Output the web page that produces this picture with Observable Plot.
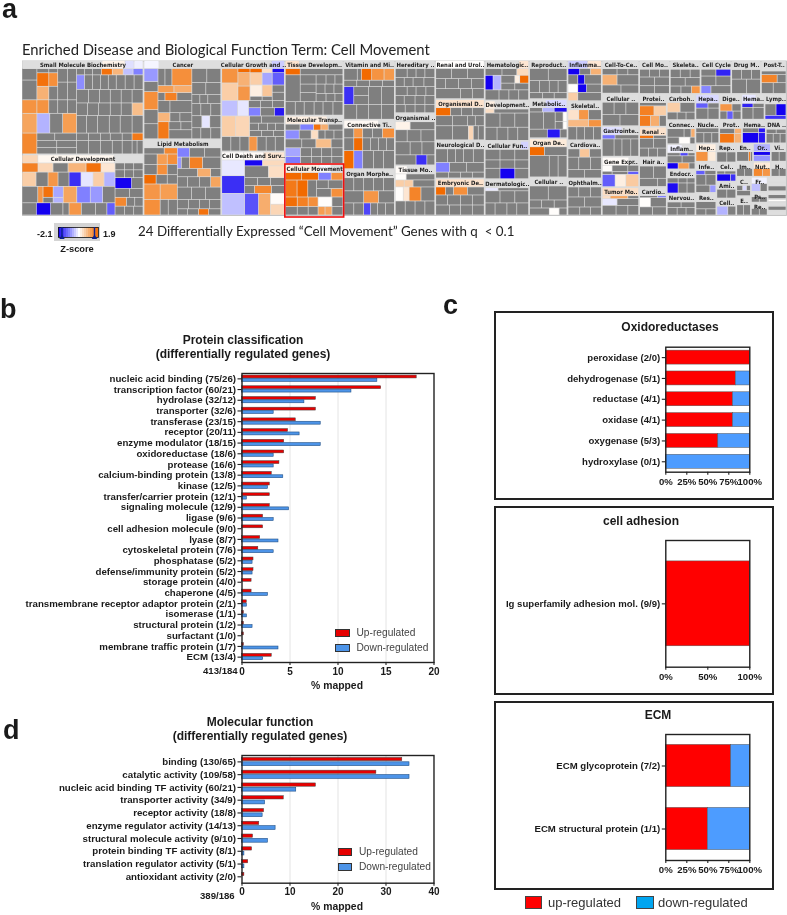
<!DOCTYPE html>
<html><head><meta charset="utf-8">
<script src="https://cdn.jsdelivr.net/npm/d3@7"></script>
<script src="https://cdn.jsdelivr.net/npm/@observablehq/plot@0.6"></script>
<style>
html,body{margin:0;padding:0;background:#fff}
#page{position:relative;width:787px;height:915px;overflow:hidden;font-family:"Liberation Sans",Arial,sans-serif;color:#1a1a1a;filter:blur(.4px)}
#page svg{position:absolute;background:transparent;max-width:none}
.t{position:absolute;white-space:nowrap;line-height:1}
.b{font-weight:bold}
.c{transform:translateX(-50%)}
.box{position:absolute;border:2px solid #222;box-sizing:border-box;background:#fff}
.sw{position:absolute;box-sizing:border-box;border:1px solid #333}
</style></head><body><div id="page"></div>
<script>
// ---------- panel b: protein classification ----------
const proteinClasses=["nucleic acid binding (75/26)","transcription factor (60/21)","hydrolase (32/12)","transporter (32/6)","transferase (23/15)","receptor (20/11)","enzyme modulator (18/15)","oxidoreductase (18/6)","protease (16/6)","calcium-binding protein (13/8)","kinase (12/5)","transfer/carrier protein (12/1)","signaling molecule (12/9)","ligase (9/6)","cell adhesion molecule (9/0)","lyase (8/7)","cytoskeletal protein (7/6)","phosphatase (5/2)","defense/immunity protein (5/2)","storage protein (4/0)","chaperone (4/5)","transmembrane receptor adaptor protein (2/1)","isomerase (1/1)","structural protein (1/2)","surfactant (1/0)","membrane traffic protein (1/7)","ECM (13/4)"];
const proteinUp=[18.2,14.5,7.7,7.7,5.6,4.8,4.4,4.4,3.9,3.1,2.9,2.9,2.9,2.2,2.2,1.9,1.7,1.2,1.2,1.0,1.0,0.5,0.2,0.2,0.2,0.2,3.1];
const proteinDown=[14.1,11.4,6.5,3.3,8.2,6.0,8.2,3.3,3.3,4.3,2.7,0.5,4.9,3.3,0,3.8,3.3,1.1,1.1,0,2.7,0.5,0.5,1.1,0,3.8,2.2];
const proteinTicks=[0,5,10,15,20];
// ---------- panel d: molecular function ----------
const functionClasses=["binding (130/65)","catalytic activity (109/58)","nucleic acid binding TF activity (60/21)","transporter activity (34/9)","receptor activity (18/8)","enzyme regulator activity (14/13)","structural molecule activity (9/10)","protein binding TF activity (8/1)","translation regulator activity (5/1)","antioxidant activity (2/0)"];
const functionUp=[33.4,28.0,15.4,8.7,4.6,3.6,2.3,2.1,1.3,0.5];
const functionDown=[34.9,34.9,11.3,4.8,4.3,7.0,5.4,0.5,0.5,0];
const functionTicks=[0,10,20,30,40];
// ---------- panel c: stacked shares ----------
const oxidoClasses=["peroxidase (2/0)","dehydrogenase (5/1)","reductase (4/1)","oxidase (4/1)","oxygenase (5/3)","hydroxylase (0/1)"];
const oxidoUp=[100,83.3,80,80,62.5,0];
const adhesionClasses=["Ig superfamily adhesion mol. (9/9)"];
const adhesionUp=[100];
const ecmClasses=["ECM glycoprotein (7/2)","ECM structural protein (1/1)"];
const ecmUp=[77.8,50];
// ---------- panel a: treemap tile sizes and z-scores ----------
// group: [name, size, header tiles, body rows]; number = grey tile, "size:z" = coloured tile, "size:h" = pale tile; nested arrays alternate direction
const colA=[
["Small Molecule Biochemistry",92,[80,"23:.15","9:-.25","9:-.12"],[[84,
 [55,[30,[15,11,19],[12,4,"13:1.8","13:.95"],[9,4,"13:1.4",13],[10,13,17],[9,13,17]],[13,"15:1.35","12:1.35",9,10,9],[19,"15:1.1","13:-.6",13,"14:1.2"],[20,"15:1.5",[40,[7,18,22],[7,20,20],[6,20,20]]]],
 [67,[6,8,8,9,"11:1.8","11:.9","10:-.5","10:-1"],[14,"8:-.9",8,8,8,8,9,9,9],[13,12,11,11,11,11,11],[12,11,11,12,11,11,"11:.8"],[17,10,11,12,11,12,11],[7,12,12,10,12,10,"11:1.7"],[13,12,12,12,10,10,5,6]]
]]],
["Cellular Development",61,["16:.5","77:.1",29],[[53,
 [93,[9,"16:1.6","15:.5",15,"18:.9","15:1.8","14:.3"],[14,"14:.6",12,"10:1.3",11,"12:-1.7","12:-.2","11:.6","11:-.6"],[18,14,[14,[12],"6:1.3"],[9,"12:1.8",6],[9,"12:-.7","6:-.6"],"12:1.1","12:-1","11:-.8",11],[12,14,"14:-2.1",12,6,"12:1.3",14,11,"8:-1.3"]],
 [27,[15,[9,7,8],[9,7,8],[9,7,8]],[11,"16:-2.1",11],[9,14,13],[9,"11:1.5",8,8],[9,9,9,9]]
]]]
];
const colB=[
["Cancer",78,["15:-.08",62],[[70,
 [14,"13:-.8",10,"18:1.4",14,15],
 [34,[17,7,7,"20:1.4"],[7,"16:1.2","18:1"],[8,7,"12:1.6",15],[12,12,22],[9,"12:.9",10,12],[17,"11:1.7",[23,[8,12,11],[9,23]]]],
 [29,[14,15,14],[12,14,15],[9,8,8,13],[12,9,10,10],[12,10,"8:-.2",11],[11,9,10,10]]
]]],
["Lipid Metabolism",75,[77],[[68,
 [33,[6,20,"13:1.5"],[10,13,"10:1.2","10:1.4"],[10,13,"10:1.4",10],[9,"12:1.9",11,10],[15,"16:1.3","17:1.2"],[15,"16:1.4",8,9]],
 [43,[9,"12:-1",15,16],[11,"4:-.8",8,"13:1.6",18],[8,20,"13:1",10],[10,10,12,11,"10:1.1"],[12,14,14,15],[9,11,11,10,11],[6,10,11,"10:1.8",12]]
]]]
];
const colC=[
["Cellular Growth and ..",90,[50,"13:-.4"],[[31,
 [16,"14:1.35","17:.6"],[12,"4:1.9","13:.95","14:1.3"],[12,"4:1.9","12:.6","11:.2",4],[10,"4:.4","12:-.7","11:.7",4],[12,"4:-2","12:-1.3",7,8]],
 [15,"16:-.5","11:-.2",[36,[7,12,12,12],[8,"12:-1",14,"10:-1.9"]]],
 [20,"14:.6","14:.5",[35,[7,12,23],[7,9,9,8,9],[6,12,12,11]]],
 [14,9,9,9,"8:1.3",9,9,9]
]],
["Cell Death and Surv..",63,["22:.03","20:.06","21:.3"],[[56,
 [23,"16:-.18","18:-1.7","22:-.5"],
 [40,[6,"18:-2.05","22:.45"],[12,24,"16:.4"],[8,13,13,14],[8,10,"17:1.5",13],[22,"14:-1.4","12:1",[14,"11:.05","11:.5"]]]
]]]
];
const colD=[
["Tissue Developm..",54,["14:.35",44],[[6,"15:1.9",43],[26,15,[16,9,8,9],[27,[9,10,9,8],[9,9,9,9],[8,10,9,8]]],[13,10,9,10,9,10,10]]],
["Molecular Transp..",47,["42:.2",16],[[6,14,"13:-1","7:1.8","7:1",14],[9,"14:-.9",12,"7:.4",7,9,9],[9,14,12,"13:.8",10],[9,"15:-.7",11,10,10,11],[7,"15:-1.05",11,10,10,11]]],
["Cellular Movement",50,["34:.2","12:-.05",12],[[7,"15:1.9","16:1.9","12:-1","11:1.4"],[16,"12:1.7","11:1.9",9,[27,[7,12,15],[7,15,"12:1.4"]]],[9,"12:1.85","11:1.6","10:1.4","14:.03",11],[8,12,11,10,"7:1.2","7:1.1",11]]]
];
const colE=[
["Vitamin and Mi..",58,[51],[[11,13,4,"10:1.9","12:1.35","10:1.25"],[6,13,13,13,12],[17,"10:-1.7",[15,8,8],13,13],[14,13,12,13,13]]],
["Connective Ti..",48,["35:.08",16],[[9,10,"9:1.3",10,10,"12:1.4"],[12,10,"9:1.9",8,8,8,8],[17,"10:1.9","9:-1",11,10,11]]],
["Organ Morphe..",45,[51],[[13,10,10,10,10,11],[12,20,"15:1.3",16],[12,10,10,"7:-1.5",7,8,9]]]
];
const colF=[
["Hereditary ..",52,[40],[[9,12,9,9,10],[9,9,9,11,11],[9,12,9,10,9],[9,9,11,10,10],[8,10,10,10,10]]],
["Organismal ..",51,[40],[[8,"15:.15",25],[12,12,14,14],[13,15,12,13],[10,21,"11:-1.7",8]]],
["Tissue Mo..",49,["12:.05",28],[[6,"11:.03",29],[7,"9:.6","9:.6",22],[14,"8:.03","6:.3","12:1.55",14],[14,10,10,10,10]]]
];
const colG=[
["Renal and Urol..",38,["48:.02"],[[10,16,16,17],[10,10,13,13,13],[10,25,12,12]]],
["Organismal D..",40,["48:.35"],[[8,"15:1.9",11,11,12],[10,17,15,8,9],[14,17,16,"5:.5",5,6]]],
["Neurological D..",37,[49],[[14,12,8,8,10,11],[10,"14:-1",17,18],[6,13,12,12,12]]],
["Embryonic De..",36,["49:.35"],[[8,"10:1.9",8,"14:1.4",17],[10,12,13,12,12],[10,14,11,12,12]]]
];
const colH=[
["Hematologic..",39,[34,"10:.3"],[[6,17,15,"12:.45"],[13,"8:-2.1","8:-.6",[28,[7,14,"5:.2","9:1.9"],[6,14,14]]],[9,14,10,10,10]]],
["Development..",39,["10:.2",34],[[4,"9:.4",35],[14,15,15,14],[13,12,11,10,11]]],
["Cellular Fun..",37,[36,"8:-.35"],[[10,15,15,14],[8,15,15,14],[10,15,"15:-2.1",14]]],
["Dermatologic..",35,[44],[[3,"13:-.2",31],[12,15,15,14],[12,10,12,10,12]]]
];
const colI=[
["Reproduct..",38,[38],[[12,19,19],[12,10,10,9,9],[6,13,12,13]]],
["Metabolic..",38,[16,"22:-.3"],[[4,13,"12:-.6","13:-2"],[16,14,12,[12,[9,8,"4:.03"],[7,8,"4:.03"]]],[8,18,"13:-1.9",7]]],
["Organ De..",38,["38:.25"],[[9,"15:1.9",23],[22,20,9,9]]],
["Cellular ..",37,[38],[[14,19,19],[8,12,13,13],[7,20,"10:.03",8]]]
];
const colJ=[
["Inflamma..",40,["20:-.4","14:.3"],[[6,"12:-2.1",11,"11:.95"],[9,10,"7:-2.1",17],[8,"10:.03","9:-2.1",15],[8,"10:.6",24]]],
["Skeletal..",38,[34],[[10,"11:.35","10:1.3",13],[7,"21:.85","13:1.35"],[13,9,8,9,8]]],
["Cardiova..",37,[34],[[8,12,"10:.7",12],[12,11,12,11],[8,17,17]]],
["Ophthalm..",36,[34],[[10,11,12,11],[10,17,17],[8,12,11,11]]]
];
const colK=[
["Cell-To-Ce..",32,[37],[[6,15,11,11],[10,"15:.95",22],[8,19,18]]],
["Cellular ..",31,[37],[[12,12,12,13],[11,18,19]]],
["Gastrointe..",29,["20:-.25",17],[[4,"13:-1.1",24],[17,12,8,9,8]]],
["Gene Expr..",29,["27:.05",10],[[6,"10:.03",16,11],[3,10,16,"11:-1.3"],[12,"12:-1.3","10:.2","12:.65"]]],
["Tumor Mo..",27,["37:.4"],[[3,"8:.4","18:1.1",11],[7,"15:-.18",22],[10,14,12,11]]]
];
const rightTop=[
["Cell Mo..",30,[30],[[8,10,10,10],[9,15,15],[8,15,15]]],
["Skeleta..",30,[30],[[9,10,10,10],[9,15,15],[8,10,10,"8:1.3"]]],
["Cell Cycle",30,[30],[[7,15,"15:-1.8"],[10,15,15],[8,"10:-.95",20]]],
["Drug M..",29,[29],[[10,10,10,9],[15,15,14]]],
["Post-T..",25,[25],[[4,25],[9,"16:1.55",9],[12,12,13]]]
];
const colL=[
["Protei..",31,[27],[[3,27],[9,"14:1.6","12:.6"],[10,"11:1.65","9:1",7]]],
["Renal ..",29,["27:.35"],[[3,"14:1.8",13],[10,14,13],[9,9,9,9]]],
["Hair a..",28,[27],[[12,14,13],[8,18,9]]],
["Cardio..",27,[27],[[2,18,"9:-1"],[9,"11:.03",16],[8,13,14]]]
];
const colM=[
["Carboh..",25,[28],[[9,"13:.6",15],[7,10,9,9]]],
["Connec..",23,[28],[[9,17,7,"4:1"],[7,12,"11:.03",5]]],
["Inflam..",24,["15:-.1",13],[[3,13,"8:-1.5",7],[7,15,13],[6,"11:-2.1","11:1.2",6]]],
["Endocr..",23,[28],[[5,11,9,8],[10,"11:-2",9,8]]],
["Nervou..",21,[28],[[6,14,14],[8,10,9,9]]]
];
const row2=[
["Hepa..",23,["23:-.3"],[[5,"12:-1.3",11],[11,12,11]]],
["Dige..",21,[21],[[8,"12:1.3",9],[9,7,"6:-1.3",8]]],
["Hema..",22,["14:-.2",8],[[4,"11:-1.8",11],[12,11,11]]],
["Lymp..",21,[21],[[9,11,"10:-2.1"],[3,"21:-1.7"]]]
];
const row3=[
["Nucle..",23,[23],[[5,23],[11,8,8,7]]],
["Prot..",22,[22],[[5,15,"7:.95"],[9,"14:1.75","7:.95"]]],
["Hema..",23,[23],[[4,14,"6:-1.9"],[9,"14:-2.1","6:-1.9"]]],
["DNA ..",20,[20],[[5,10,10],[11,7,7,6]]]
];
const blockP=[
["Hep..",17,["20:.2"],[[9,"12:1.35","8:.25"]]],
["Infe..",29,[20],[[4,"9:-1.3",11],[10,10,10],[7,14,"6:-.8"]]],
["Res..",21,[20],[[7,20],[6,10,10]]]
];
const blockQ=[
["Rep..",18,[19],[[10,10,9]]],
["Cel..",18,[19],[[3,8,11],[7,"13:-2.1","5:-1.7"]]],
["Ami..",16,[19],[[8,10,9]]],
["Cell..",16,[19],[[8,"11:-.6",8]]]
];
const rowX=[
["En..",16,[16],[[8,12,"2:1.6",2]]],
["Or..",17,["17:-.6"],[[3,"17:-2.1"],[5,"17:-.85"]]],
["Vi..",15,[15],[[8,8,7]]]
];
const rowY=[
["Im..",16,[16],[[6,8,8]]],
["Nut..",17,["17:.25"],[[6,"9:1.5","8:1.3"]]],
["H..",15,[15],[[6,8,7]]]
];
const blockC=[["C..",18,[14],[[4,6,"4:-.3",4],[4,14]]],["E..",18,[14],[[10,7,7]]]];
const blockF=[["Fr..",14,["16:-.1"],[[3,"9:-.5",7]]],["Ps..",10,[16],[[2,8,8]]],["Re..",12,[16],[[4,8,8]]]];
const blockG=["6:h","3:h",6,"3:h",5,"3:.03","4:h",5,"5:h"];
// ---------- colour legend ----------
const zStops=[-2.1,-1.9,-1.7,-1.5,-1.3,-1.1,-.9,-.7,-.5,-.3,-.1,.1,.3,.5,.7,.9,1.1,1.3,1.5,1.7];
const zMarkers=[-1.75,1.5];
// ---------- helpers ----------
const page=document.getElementById("page");
const font='"Liberation Sans",Arial,sans-serif';
const txt=(s,x,y,size,cls="",extra="")=>{const d=document.createElement("div");d.className="t "+cls;d.textContent=s;d.style.cssText=`left:${x}px;top:${y-size*.5}px;font-size:${size}px;${extra}`;page.appendChild(d);return d;};
const letter=(s,x,y)=>{const d=document.createElement("div");d.className="t b";d.textContent=s;d.style.cssText=`left:${x}px;top:${y-8}px;font-size:27px;line-height:16px`;page.appendChild(d);};
const place=(svg,x,y)=>{svg.style.left=x+"px";svg.style.top=y+"px";page.appendChild(svg);};
const box=(x,y,w,h)=>{const d=document.createElement("div");d.className="box";d.style.cssText=`left:${x}px;top:${y}px;width:${w}px;height:${h}px`;page.appendChild(d);};
const swatch=(x,y,w,h,c,b="#333")=>{const d=document.createElement("div");d.className="sw";d.style.cssText=`left:${x}px;top:${y}px;width:${w}px;height:${h}px;background:${c};border-color:${b}`;page.appendChild(d);};

// ---------- treemap ----------
function tile(s,dir,pale){
  if(typeof s==="number")return{w:s,cell:pale?"head":"gray"};
  if(typeof s==="string"){const[a,b]=s.split(":");return b==="h"?{w:+a,cell:"head"}:{w:+a,cell:"z",z:+b};}
  const nd=dir==="h"?"v":"h";
  return{w:s[0],dir:nd,children:s.slice(1).map(k=>tile(k,nd,pale))};
}
function group([name,size,head,body]){
  const hh=Math.min(8,size*.45);
  return{w:size,dir:"v",kind:"group",name,children:[
    {w:hh,dir:"h",kind:"head",children:head.map(h=>tile(h,"h",true))},
    {w:size-hh,dir:"v",kind:"body",children:body.map(r=>tile(r,"v",false))}
  ]};
}
const L=(dir,w,kids)=>({dir,w,kind:"layout",children:kids.map(k=>Array.isArray(k)?group(k):k)});
const tree=L("h",1,[
  L("v",122,colA),L("v",77,colB),L("v",63,colC),L("v",58,colD),L("v",51,colE),L("v",40,colF),L("v",49,colG),L("v",44,colH),L("v",38,colI),L("v",34,colJ),L("v",37,colK),
  L("v",146,[L("h",33.5,rightTop),L("h",120,[L("v",27,colL),L("v",28,colM),L("v",89,[L("h",25,row2),L("h",23,row3),L("h",70,[L("v",20,blockP),L("v",19,blockQ),L("v",48,[L("h",17,rowX),L("h",14,rowY),L("h",36,[L("v",14,blockC),L("v",16,blockF),{w:18,dir:"v",kind:"layout",children:blockG.map(g=>tile(g,"v",false))}])])])])])])
]);
(function assign(n,a){if(n.children){const t=d3.sum(n.children,c=>c.w);n.children.forEach(c=>assign(c,a*c.w/t));}else n.area=a;})(tree,1e6);
const W=764,H=154.5;
const root=d3.treemap().tile((n,x0,y0,x1,y1)=>(n.data.dir==="h"?d3.treemapDice:d3.treemapSlice)(n,x0,y0,x1,y1)).size([W,H]).paddingInner(n=>n.data.kind==="layout"?1:0)(d3.hierarchy(tree,d=>d.children).sum(d=>d.children?0:d.area));
const leaves=root.leaves();
const grey=leaves.filter(d=>d.data.cell==="gray"),pale=leaves.filter(d=>d.data.cell==="head"),coloured=leaves.filter(d=>d.data.cell==="z");
const groups=root.descendants().filter(d=>d.data.kind==="group");
const rectOpts={x1:"x0",x2:"x1",y1:"y0",y2:"y1",inset:.35};
const zScale={type:"linear",domain:[-2.1,-1,0,1.1,1.9],range:["#1400f0","#8080ff","#ffffff","#f6a55e","#f26a00"]};
place(Plot.plot({width:787,height:165,marginLeft:22,marginRight:1,marginTop:5.5,marginBottom:5,
  x:{domain:[0,W],axis:null},y:{domain:[H,0],axis:null},color:zScale,
  style:{background:"transparent"},
  marks:[
    Plot.frame({fill:"#dcdcdc",stroke:"#bbb",strokeWidth:.8}),
    Plot.rect(grey,{...rectOpts,fill:"#7f7f7f"}),
    Plot.rect(pale,{...rectOpts,fill:"#dedede"}),
    Plot.rect(coloured,{...rectOpts,fill:d=>d.data.z}),
    Plot.text(groups,{x:d=>(d.x0+d.x1)/2,y:d=>d.y0+4,text:d=>d.data.name,fontSize:5.9,fontWeight:"bold",fontFamily:'"DejaVu Sans Condensed","DejaVu Sans",sans-serif',fill:"#222",lineAnchor:"middle"}),
    Plot.rect(groups.filter(d=>d.data.name==="Cellular Movement"),{x1:d=>d.x0-.5,x2:d=>d.x1+.8,y1:d=>d.y0-.5,y2:d=>d.y1+2,stroke:"#f01010",strokeWidth:1.6,fill:"none"})
  ]}),0,55);
// z legend
place(Plot.plot({width:46,height:18,marginLeft:4,marginRight:2,marginTop:4,marginBottom:4,
  x:{domain:[-2.1,1.9],axis:null},y:{domain:[0,1],axis:null},color:zScale,style:{background:"#d4d4d4"},
  marks:[
    Plot.rectY(zStops,{x1:d=>d,x2:d=>d+.2,y1:0,y2:1,fill:d=>d+.1}),
    Plot.frame({stroke:"#111",strokeWidth:.8}),
    Plot.tickX(zMarkers,{x:d=>d,stroke:"#0a1f8f",strokeWidth:1.5}),
    Plot.dot(zMarkers,{x:d=>d,y:0,symbol:"triangle",r:2,fill:"#0a1f8f"})
  ]}),54,223);

letter("a",2,9);letter("b",0,309);letter("c",443,305);letter("d",3,730);
txt("Enriched Disease and Biological Function Term: Cell Movement",22,49.5,14.8,"",'font-family:Lato,sans-serif;color:#222');
txt("24 Differentially Expressed “Cell Movement” Genes with q  < 0.1",138,231.5,13.35,"",'font-family:Lato,sans-serif;color:#222;white-space:pre');
txt("-2.1",37,234,9,"b");txt("1.9",103,234,9,"b");txt("Z-score",77,250,9.3,"b c");

// ---------- grouped bars ----------
const UPC="#e60000",DNC="#4d94e8";
function grouped(cats,up,dn,ticks,frameTop,frameBottom,offs){
  const top=frameTop-8;
  const rows=s=>cats.map((c,i)=>({c,v:s[i]}));
  const band=(frameBottom-frameTop)/cats.length,mid=band/2;
  return{svg:Plot.plot({width:450,height:frameBottom+42-top,marginLeft:241.5,marginRight:16.5,marginTop:8,marginBottom:42,
    x:{domain:[ticks[0],ticks[ticks.length-1]]},y:{domain:cats,padding:0,round:false},
    style:{background:"transparent",fontFamily:font},
    marks:[
      Plot.gridX(ticks.slice(1,-1),{stroke:"#ddd",strokeOpacity:1,strokeWidth:.8}),
      Plot.barX(rows(up),{x:"v",y:"c",fill:UPC,stroke:"#444",strokeWidth:.5,insetTop:mid-offs[0],insetBottom:mid+offs[1]}),
      Plot.barX(rows(dn).filter(d=>d.v>0),{x:"v",y:"c",fill:DNC,stroke:"#1f4f86",strokeWidth:.6,insetTop:mid+offs[2],insetBottom:mid-offs[3]}),
      Plot.frame({stroke:"#222",strokeWidth:1.4}),
      Plot.axisY({tickSize:4,tickPadding:2,label:null,fontSize:offs[4],fontWeight:"bold",fill:"#1a1a1a",stroke:"#222",strokeWidth:1.1,textStroke:"none"}),
      Plot.axisX({ticks,tickSize:3,tickPadding:2,label:null,fontSize:10,fontWeight:"bold",fill:"#1a1a1a",stroke:"#222",strokeWidth:1.1})
    ]}),top};
}
const pb=grouped(proteinClasses,proteinUp,proteinDown,proteinTicks,372.7,661.7,[3.3,.4,.1,3,9.7]);
place(pb.svg,0,pb.top);
const pd=grouped(functionClasses,functionUp,functionDown,functionTicks,755,882.7,[4,.7,.4,4.2,9.7]);
place(pd.svg,0,pd.top);
txt("Protein classification",243,340,12,"b c");txt("(differentially regulated genes)",243,354,12,"b c");
txt("Molecular function",260,722,12,"b c");txt("(differentially regulated genes)",260,736,12,"b c");
txt("% mapped",337,686,10.4,"b c");txt("% mapped",337,907.5,10.4,"b c");
txt("413/184",203,671,9.6,"b");txt("389/186",200,896,9.6,"b");
[[335,629,"Up-regulated",UPC],[335,644,"Down-regulated",DNC],[337.5,848,"Up-regulated",UPC],[337.5,863,"Down-regulated",DNC]].forEach(([x,y,s,c])=>{swatch(x,y,14.5,8,c,"#333");txt(s,x+21.5,y+4,10.2,"",'color:#444');});

// ---------- stacked bars ----------
function stacked(cats,up,ticks,top,bottom,svgTop){
  const rows=cats.flatMap((c,i)=>[{c,s:"up",v:up[i]},{c,s:"down",v:100-up[i]}]).filter(d=>d.v>0);
  return Plot.plot({width:300,height:bottom+20-svgTop,marginLeft:185.3,marginRight:30.7,marginTop:top-svgTop,marginBottom:20,
    x:{domain:[0,100]},y:{domain:cats,paddingInner:.33,paddingOuter:.165,round:false},color:{domain:["up","down"],range:["#ff0000","#4d9cff"]},
    style:{background:"transparent",fontFamily:font},
    marks:[
      Plot.barX(rows,{x:"v",y:"c",fill:"s",stroke:"#555",strokeWidth:.5}),
      Plot.frame({stroke:"#222",strokeWidth:1.4}),
      Plot.axisY({tickSize:3.5,tickPadding:2,label:null,fontSize:9.6,fontWeight:"bold",fill:"#1a1a1a",stroke:"#222",strokeWidth:1.1}),
      Plot.axisX({ticks,tickSize:3,tickPadding:2.5,tickFormat:d=>d+"%",label:null,fontSize:9.6,fontWeight:"bold",fill:"#1a1a1a",stroke:"#222",strokeWidth:1.1})
    ]});
}
box(494,311,280,188.5);box(494,506,280,188.5);box(494,701,280,188.5);
place(stacked(oxidoClasses,oxidoUp,[0,25,50,75,100],346.7,471.7,330),480,330);
place(stacked(adhesionClasses,adhesionUp,[0,50,100],540,666.7,525),480,525);
place(stacked(ecmClasses,ecmUp,[0,25,50,75,100],734,860,720),480,720);
txt("Oxidoreductases",670,327,12,"b c");txt("cell adhesion",641,521,12,"b c");txt("ECM",658,715,12,"b c");
swatch(524.5,896,17.5,13,"#ff0000","#444");txt("up-regulated",548,902.5,13,"",'color:#333');
swatch(636,896,18,13,"#00a5f0","#444");txt("down-regulated",658,902.5,13,"",'color:#333');
</script></body></html>
